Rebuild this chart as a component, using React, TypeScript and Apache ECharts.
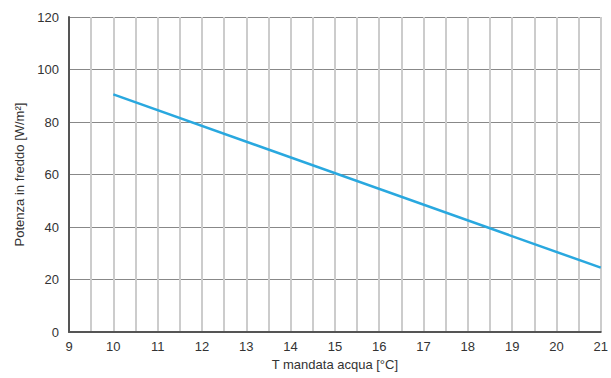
import React, { useEffect, useRef } from "react";
import * as echarts from "echarts";

const xValues = [10, 21];
const yValues = [90.5, 24.5];
const xTitle = "T mandata acqua [°C]";
const yTitle = "Potenza in freddo [W/m²]";

const FONT = "'Liberation Sans Narrow', 'Liberation Sans', Arial, sans-serif";

export default function App() {
  const ref = useRef<HTMLDivElement>(null);
  useEffect(() => {
    const chart = echarts.init(ref.current!, undefined, { renderer: "svg" });
    chart.setOption({
      animation: false,
      grid: { left: 69, right: 7, top: 17, bottom: 46 },
      xAxis: {
        type: "value",
        min: 9,
        max: 21,
        interval: 1,
        name: xTitle,
        nameLocation: "middle",
        nameGap: 26,
        nameTextStyle: { fontFamily: FONT, fontSize: 13, color: "#333" },
        axisLine: { show: true, onZero: false, lineStyle: { color: "#555", width: 2 } },
        axisTick: { show: false },
        axisLabel: { fontFamily: FONT, fontSize: 13, color: "#333", margin: 8 },
        splitLine: { show: true, lineStyle: { color: "#cccccc", width: 2 } },
        minorTick: { show: false, splitNumber: 2 },
        minorSplitLine: { show: true, lineStyle: { color: "#cccccc", width: 2 } },
      },
      yAxis: {
        type: "value",
        min: 0,
        max: 120,
        interval: 20,
        name: yTitle,
        nameLocation: "middle",
        nameGap: 37,
        nameTextStyle: { fontFamily: FONT, fontSize: 13, color: "#333" },
        axisLine: { show: true, lineStyle: { color: "#555", width: 2 } },
        axisTick: { show: false },
        axisLabel: { fontFamily: FONT, fontSize: 13, color: "#333", margin: 10 },
        splitLine: { show: true, lineStyle: { color: "#888", width: 1 } },
      },
      series: [
        {
          type: "line",
          data: xValues.map((x, i) => [x, yValues[i]]),
          showSymbol: false,
          lineStyle: { color: "#29a8df", width: 2.5 },
          z: 5,
        },
      ],
    });
    return () => chart.dispose();
  }, []);
  return <div ref={ref} style={{ width: 611, height: 378, position: "absolute", left: 0, top: 0 }} />;
}
